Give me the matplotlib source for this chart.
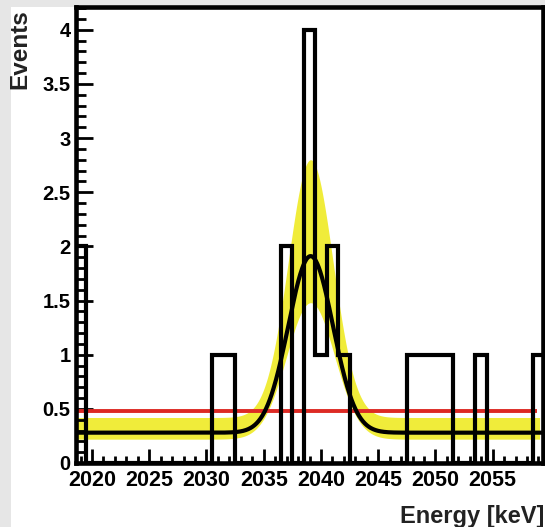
import numpy as np
import matplotlib
matplotlib.use("Agg")
import matplotlib.pyplot as plt
from matplotlib.patches import Rectangle
from matplotlib.ticker import MultipleLocator

# ---- data ----
bin_edges = np.arange(2018.5, 2060.5, 1.0)          # 41 bins of 1 keV
event_bins = [2019, 2031, 2032, 2037, 2039, 2040, 2041, 2042,
              2048, 2049, 2050, 2051, 2054, 2059]
event_counts = [2, 1, 1, 2, 4, 1, 2, 1, 1, 1, 1, 1, 1, 1]
counts = np.zeros(len(bin_edges) - 1)
for e, c in zip(event_bins, event_counts):
    counts[int(round(e - 2019))] = c

# fit: flat background + gaussian peak
fit_mu = 2039.1
fit_bkg, fit_amp, fit_sigma = 0.28, 1.63, 1.95
band_hi = (0.42, 2.38, 1.95)
band_lo = (0.22, 1.26, 2.10)
red_level = 0.48

xtick_vals = [2020, 2025, 2030, 2035, 2040, 2045, 2050, 2055]
ytick_vals = [0, 0.5, 1, 1.5, 2, 2.5, 3, 3.5, 4]
ytick_labels = ["0", "0.5", "1", "1.5", "2", "2.5", "3", "3.5", "4"]

plt.rcParams['font.family'] = ['Liberation Sans', 'DejaVu Sans']
plt.rcParams['font.weight'] = 'bold'

W, H = 545, 527
fig = plt.figure(figsize=(W / 100, H / 100), dpi=100)
fig.patch.set_facecolor('white')
gray = '#e6e6e6'
fig.patches.append(Rectangle((0, 0), 11 / W, 1, transform=fig.transFigure,
                             facecolor=gray, edgecolor='none', zorder=-10))
fig.patches.append(Rectangle((0, 1 - 7 / H), 1, 7 / H, transform=fig.transFigure,
                             facecolor=gray, edgecolor='none', zorder=-10))

ax = fig.add_axes([76 / W, 1 - 463 / H, (543 - 76) / W, (463 - 7) / H])
ax.set_facecolor('white')

def peak(x, b, a, s):
    return b + a * np.exp(-0.5 * ((x - fit_mu) / s) ** 2)

xb = np.linspace(2018.5, 2059.1, 800)
ax.fill_between(xb, peak(xb, *band_lo), peak(xb, *band_hi),
                color='#f0ec3a', linewidth=0, zorder=1)
ax.plot([2018.5, 2058.85], [red_level, red_level], color='#dd2a24',
        lw=2.8, zorder=2, solid_capstyle='butt')
ax.stairs(counts, bin_edges, color='black', lw=3.0, zorder=3, baseline=0)
xf = np.linspace(2018.5, 2060, 1000)
ax.plot(xf, peak(xf, fit_bkg, fit_amp, fit_sigma), color='black', lw=3.0, zorder=4)

ax.set_xlim(2018.6, 2059.4)
ax.set_ylim(0, 4.21)

for sp in ax.spines.values():
    sp.set_linewidth(3.3)
    sp.set_zorder(6)

ax.set_xticks(xtick_vals)
ax.set_xticklabels([str(v) for v in xtick_vals])
ax.set_yticks(ytick_vals)
ax.set_yticklabels(ytick_labels)
ax.xaxis.set_minor_locator(MultipleLocator(1))
ax.yaxis.set_minor_locator(MultipleLocator(0.1))
ax.tick_params(axis='both', which='major', direction='in', width=2, length=10,
               top=False, right=False)
ax.tick_params(axis='both', which='minor', direction='in', width=2, length=5,
               top=False, right=False)
ax.tick_params(axis='x', which='major', labelsize=15.5, pad=5)
ax.tick_params(axis='y', which='major', labelsize=14.5, pad=4, length=12)
ax.tick_params(axis='y', which='minor', length=7)
for lab in ax.get_xticklabels() + ax.get_yticklabels():
    lab.set_fontweight('bold')

fig.text(400 / W, 1 - 523 / H, "Energy [keV]", fontsize=17, fontweight='bold',
         ha='left', va='baseline', color='#222222')
fig.text(20 / W, 1 - 9 / H, "Events", fontsize=17.5, fontweight='bold',
         ha='center', va='top', rotation=90, color='#222222')

fig.savefig("out.png", dpi=100, facecolor=fig.get_facecolor())
